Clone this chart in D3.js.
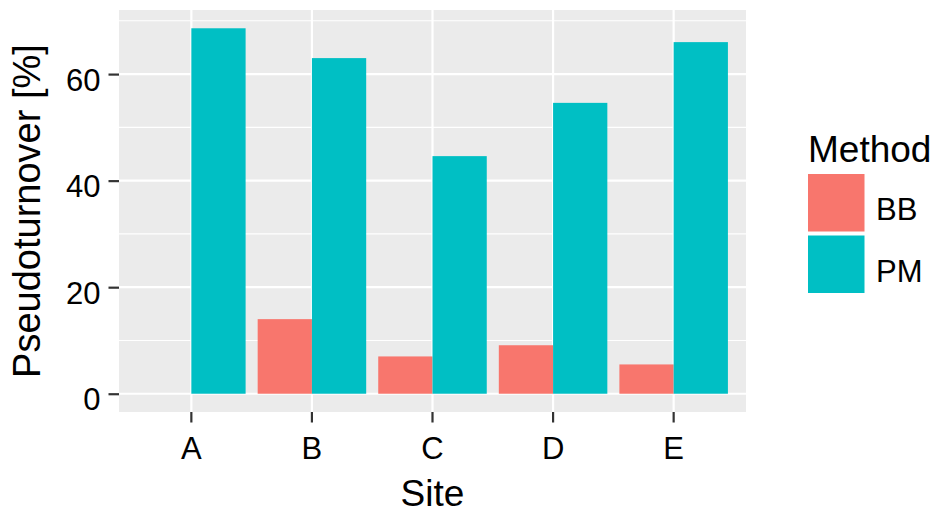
<!DOCTYPE html>
<html>
<head>
<meta charset="utf-8">
<script src="https://cdn.jsdelivr.net/npm/d3@7"></script>
<style>
  body { margin: 0; background: #fff; }
  text { font-family: "Liberation Sans", Arial, sans-serif; fill: #000; }
</style>
</head>
<body>
<div id="chart"></div>
<script>
// Data
const sites = ['A', 'B', 'C', 'D', 'E'];
const methods = ['BB', 'PM'];
const bbValues = [0, 14.0, 7.0, 9.1, 5.5];
const pmValues = [68.6, 63.0, 44.6, 54.6, 66.0];
const yTicks = [0, 20, 40, 60];
const yMinor = [10, 30, 50, 70];
const colors = ['#F8766D', '#00BFC4'];

const width = 936;
const height = 514;
const panel = { left: 119, right: 746, top: 10, bottom: 412 };

const svg = d3.select('#chart').append('svg')
    .attr('width', width)
    .attr('height', height);

// Build rows for drawing
const rows = [];
sites.forEach((s, i) => {
    rows.push({ site: s, method: 'BB', value: bbValues[i] });
    rows.push({ site: s, method: 'PM', value: pmValues[i] });
});

// Scales (ggplot-like expansion)
const maxVal = d3.max(rows, d => d.value);
const yScale = d3.scaleLinear()
    .domain([-0.05 * maxVal, maxVal * 1.05])
    .range([panel.bottom, panel.top]);

const xScale = d3.scaleBand()
    .domain(sites)
    .range([panel.left, panel.right])
    .paddingInner(0)
    .paddingOuter(0.1);

const bw = xScale.bandwidth();
const xSub = d3.scaleBand()
    .domain(methods)
    .range([0.05 * bw, 0.95 * bw]);

const colorScale = d3.scaleOrdinal().domain(methods).range(colors);

// Panel background
svg.append('rect')
    .attr('x', panel.left)
    .attr('y', panel.top)
    .attr('width', panel.right - panel.left)
    .attr('height', panel.bottom - panel.top)
    .attr('fill', '#EBEBEB');

// Grid lines
svg.append('g').selectAll('line')
    .data(yMinor)
    .enter().append('line')
    .attr('x1', panel.left).attr('x2', panel.right)
    .attr('y1', d => yScale(d)).attr('y2', d => yScale(d))
    .attr('stroke', '#fff').attr('stroke-width', 1.1);

svg.append('g').selectAll('line')
    .data(yTicks)
    .enter().append('line')
    .attr('x1', panel.left).attr('x2', panel.right)
    .attr('y1', d => yScale(d)).attr('y2', d => yScale(d))
    .attr('stroke', '#fff').attr('stroke-width', 2.2);

svg.append('g').selectAll('line')
    .data(sites)
    .enter().append('line')
    .attr('x1', d => xScale(d) + bw / 2).attr('x2', d => xScale(d) + bw / 2)
    .attr('y1', panel.top).attr('y2', panel.bottom)
    .attr('stroke', '#fff').attr('stroke-width', 2.2);

// Bars
svg.append('g').selectAll('rect')
    .data(rows)
    .enter().append('rect')
    .attr('x', d => xScale(d.site) + xSub(d.method))
    .attr('width', xSub.bandwidth())
    .attr('y', d => yScale(d.value))
    .attr('height', d => yScale(0) - yScale(d.value))
    .attr('fill', d => colorScale(d.method));

// Axes
const yAxis = d3.axisLeft(yScale).tickValues(yTicks).tickSize(10.5).tickPadding(8);
const yAxisGroup = svg.append('g')
    .attr('class', 'axis y-axis')
    .attr('transform', `translate(${panel.left},0)`)
    .call(yAxis);

const xAxis = d3.axisBottom(xScale).tickSize(10.5).tickPadding(14);
const xAxisGroup = svg.append('g')
    .attr('class', 'axis x-axis')
    .attr('transform', `translate(0,${panel.bottom})`)
    .call(xAxis);

svg.selectAll('.axis .domain').remove();
svg.selectAll('.axis .tick line').attr('stroke', '#333').attr('stroke-width', 2.2);
svg.selectAll('.axis .tick text')
    .attr('font-size', 31)
    .attr('fill', '#000')
    .style('font-family', '"Liberation Sans", Arial, sans-serif');
yAxisGroup.selectAll('.tick text').attr('dy', '0.52em');
xAxisGroup.selectAll('.tick text').attr('dy', '0.71em');

// Axis titles
svg.append('text')
    .attr('x', (panel.left + panel.right) / 2)
    .attr('y', 506)
    .attr('text-anchor', 'middle')
    .attr('font-size', 37)
    .text('Site');

svg.append('text')
    .attr('transform', `translate(39.5,${(panel.top + panel.bottom) / 2}) rotate(-90)`)
    .attr('text-anchor', 'middle')
    .attr('font-size', 38)
    .text('Pseudoturnover [%]');

// Legend
const legend = svg.append('g').attr('transform', 'translate(808,0)');
legend.append('text')
    .attr('x', 0)
    .attr('y', 161.5)
    .attr('font-size', 37)
    .text('Method');

const keys = legend.selectAll('g.key')
    .data(methods)
    .enter().append('g')
    .attr('class', 'key')
    .attr('transform', (d, i) => `translate(0,${174 + i * 61.5})`);

keys.append('rect')
    .attr('width', 56.5)
    .attr('height', 57.5)
    .attr('fill', d => colorScale(d));

keys.append('text')
    .attr('x', 68)
    .attr('y', 46)
    .attr('font-size', 31)
    .text(d => d);
</script>
</body>
</html>
